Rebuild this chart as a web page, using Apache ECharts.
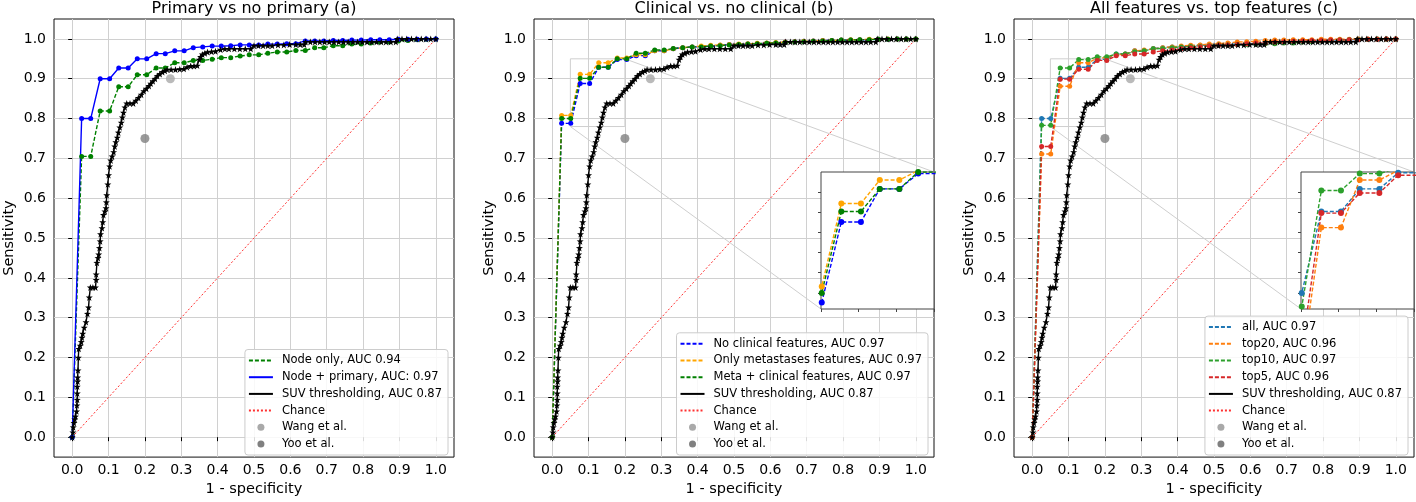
<!DOCTYPE html>
<html><head><meta charset="utf-8">
<script src="https://cdn.jsdelivr.net/npm/echarts@6.0.0/dist/echarts.min.js"></script>
<style>html,body{margin:0;padding:0;background:#fff}#c{width:1416px;height:502px}</style>
</head><body><div id="c"></div>
<script>
// ---------- DATA ----------
const tickValues = [0, 0.1, 0.2, 0.3, 0.4, 0.5, 0.6, 0.7, 0.8, 0.9, 1.0];
const tickLabels = ['0.0','0.1','0.2','0.3','0.4','0.5','0.6','0.7','0.8','0.9','1.0'];
const panelTitles = ['Primary vs no primary (a)', 'Clinical vs. no clinical (b)', 'All features vs. top features (c)'];
const xAxisName = '1 - specificity';
const yAxisName = 'Sensitivity';

// false positive rates of the model curves (steps)
const fpr = [0, 0.026, 0.051, 0.077, 0.103, 0.128, 0.154, 0.179, 0.205, 0.231, 0.256, 0.282, 0.308, 0.333, 0.359, 0.385, 0.41, 0.436, 0.462, 0.487, 0.513, 0.538, 0.564, 0.59, 0.615, 0.641, 0.667, 0.692, 0.718, 0.744, 0.769, 0.795, 0.821, 0.846, 0.872, 0.897, 0.923, 0.949, 0.974, 1.0];

// panel (a)
const p1NodeOnly    = [0,0.705,0.705,0.819,0.819,0.88,0.88,0.91,0.91,0.927,0.927,0.94,0.94,0.946,0.946,0.949,0.953,0.953,0.957,0.96,0.96,0.964,0.967,0.967,0.971,0.971,0.978,0.978,0.983,0.983,0.987,0.987,0.99,0.992,0.992,0.995,0.996,0.998,0.999,1.0];
const p1NodePrimary = [0,0.80,0.80,0.90,0.90,0.927,0.927,0.95,0.95,0.963,0.963,0.97,0.97,0.978,0.98,0.982,0.982,0.983,0.985,0.985,0.985,0.987,0.987,0.988,0.988,0.995,0.995,0.995,0.996,0.996,0.997,0.997,0.998,0.998,0.998,0.999,0.999,0.999,1.0,1.0];
// panel (b)
const p2NoClinical   = [0,0.788,0.788,0.888,0.888,0.929,0.929,0.948,0.948,0.958,0.958,0.97,0.97,0.975,0.978,0.98,0.98,0.982,0.984,0.986,0.986,0.987,0.988,0.989,0.99,0.992,0.993,0.994,0.995,0.996,0.996,0.997,0.997,0.998,0.998,0.999,0.999,1.0,1.0,1.0];
const p2OnlyMeta     = [0,0.808,0.808,0.911,0.911,0.94,0.94,0.952,0.952,0.96,0.96,0.97,0.97,0.975,0.978,0.98,0.982,0.984,0.985,0.986,0.987,0.988,0.989,0.99,0.991,0.992,0.993,0.994,0.995,0.996,0.996,0.997,0.998,0.998,0.999,0.999,1.0,1.0,1.0,1.0];
const p2MetaClinical = [0,0.80,0.80,0.901,0.901,0.929,0.929,0.95,0.95,0.964,0.964,0.972,0.972,0.976,0.978,0.98,0.98,0.982,0.983,0.985,0.986,0.987,0.988,0.989,0.99,0.991,0.992,0.993,0.994,0.995,0.996,0.997,0.997,0.998,0.998,0.999,0.999,1.0,1.0,1.0];
// panel (c)
const p3All   = [0,0.80,0.80,0.901,0.901,0.929,0.929,0.949,0.949,0.962,0.962,0.97,0.97,0.976,0.978,0.98,0.98,0.982,0.984,0.985,0.985,0.986,0.987,0.988,0.988,0.99,0.992,0.993,0.994,0.995,0.995,0.996,0.997,0.997,0.998,0.998,0.999,0.999,1.0,1.0];
const p3Top20 = [0,0.711,0.711,0.881,0.881,0.94,0.94,0.952,0.953,0.96,0.962,0.97,0.972,0.975,0.978,0.98,0.982,0.984,0.985,0.987,0.988,0.99,0.992,0.993,0.994,0.996,0.997,0.997,0.998,0.998,0.998,0.999,0.999,0.999,0.999,1.0,1.0,1.0,1.0,1.0];
const p3Top10 = [0,0.783,0.783,0.927,0.927,0.948,0.948,0.955,0.955,0.962,0.962,0.968,0.97,0.975,0.976,0.978,0.98,0.981,0.981,0.983,0.985,0.985,0.986,0.986,0.987,0.988,0.988,0.99,0.99,0.992,0.993,0.995,0.996,0.997,0.998,0.999,0.999,1.0,1.0,1.0];
const p3Top5  = [0,0.73,0.73,0.899,0.899,0.924,0.924,0.946,0.946,0.958,0.958,0.962,0.962,0.967,0.97,0.972,0.975,0.978,0.98,0.982,0.984,0.985,0.986,0.988,0.99,0.99,0.992,0.993,0.994,0.995,0.996,0.996,0.997,0.997,0.998,0.998,0.999,0.999,1.0,1.0];

// SUV thresholding curve [fpr, tpr] (same in all panels)
const suvCurve = [[0,0],[0.002,0.012],[0.003,0.025],[0.005,0.036],[0.007,0.045],[0.009,0.052],[0.012,0.065],[0.013,0.08],[0.014,0.094],[0.014,0.11],[0.014,0.127],[0.015,0.14],[0.015,0.15],[0.016,0.168],[0.017,0.2],[0.018,0.222],[0.022,0.23],[0.025,0.239],[0.027,0.25],[0.029,0.26],[0.033,0.275],[0.038,0.289],[0.042,0.31],[0.045,0.326],[0.047,0.351],[0.05,0.376],[0.057,0.376],[0.064,0.376],[0.066,0.395],[0.066,0.409],[0.068,0.438],[0.071,0.45],[0.073,0.459],[0.075,0.475],[0.077,0.492],[0.078,0.51],[0.082,0.525],[0.084,0.54],[0.086,0.558],[0.09,0.567],[0.093,0.575],[0.094,0.59],[0.095,0.608],[0.098,0.635],[0.1,0.658],[0.103,0.68],[0.106,0.695],[0.11,0.705],[0.114,0.716],[0.117,0.73],[0.12,0.741],[0.124,0.752],[0.127,0.765],[0.131,0.778],[0.135,0.79],[0.138,0.803],[0.141,0.815],[0.145,0.828],[0.15,0.838],[0.159,0.838],[0.168,0.838],[0.175,0.845],[0.182,0.852],[0.19,0.86],[0.197,0.869],[0.204,0.875],[0.211,0.882],[0.216,0.888],[0.222,0.894],[0.228,0.9],[0.234,0.907],[0.241,0.912],[0.248,0.917],[0.255,0.92],[0.261,0.923],[0.272,0.923],[0.284,0.923],[0.296,0.924],[0.307,0.925],[0.316,0.929],[0.326,0.932],[0.335,0.932],[0.344,0.933],[0.349,0.948],[0.353,0.955],[0.358,0.961],[0.365,0.964],[0.372,0.967],[0.383,0.968],[0.394,0.969],[0.408,0.973],[0.42,0.975],[0.431,0.975],[0.446,0.975],[0.461,0.975],[0.476,0.975],[0.491,0.975],[0.5,0.983],[0.512,0.983],[0.525,0.983],[0.538,0.983],[0.55,0.983],[0.566,0.985],[0.582,0.985],[0.598,0.986],[0.615,0.986],[0.627,0.986],[0.638,0.986],[0.642,0.9925],[0.655,0.9925],[0.668,0.9925],[0.681,0.9925],[0.694,0.9925],[0.707,0.9925],[0.72,0.9925],[0.733,0.9925],[0.746,0.9925],[0.759,0.9925],[0.772,0.9925],[0.785,0.9925],[0.798,0.9925],[0.811,0.9925],[0.824,0.9925],[0.837,0.9925],[0.85,0.9925],[0.863,0.9925],[0.876,0.9925],[0.89,0.9925],[0.894,1.0],[0.907,1.0],[0.92,1.0],[0.933,1.0],[0.946,1.0],[0.96,1.0],[0.973,1.0],[0.986,1.0],[1.0,1.0]];

const chanceLine = [[0,0],[1,1]];
const wangPoint = [[0.27, 0.90]];
const yooPoint  = [[0.20, 0.75]];

const insetXRange = [0.05, 0.2];
const insetYRange = [0.78, 0.95];
const insetXTicks = [0.05, 0.1, 0.15, 0.2];
const insetYTicks = [0.8, 0.825, 0.85, 0.875, 0.9, 0.925];

// ---------- STYLE / LAYOUT ----------
const FONT = 'DejaVu Sans';
const mainGrids = [{left:54, top:19, width:400, height:442},{left:534, top:19, width:400, height:442},{left:1014, top:19, width:400, height:442}];
const insetGrids = [{left:821, top:172, width:113, height:137},{left:1301, top:172, width:113, height:137}];
const DASH = [4, 2];
const STAR = 'path://M0,-10L2.35,-3.24L9.51,-3.09L3.8,1.24L5.88,8.09L0,4L-5.88,8.09L-3.8,1.24L-9.51,-3.09L-2.35,-3.24Z';

function pairs(xs, ys){ return xs.map((x,i)=>[x, ys[i]]); }
function labelOf(v){ return tickLabels[Math.round(v*10)]; }

const grids = [];
mainGrids.forEach(g => grids.push(Object.assign({show:true, borderColor:'#111', borderWidth:1, backgroundColor:'transparent', containLabel:false}, g)));
insetGrids.forEach(g => grids.push(Object.assign({show:true, borderColor:'#444', borderWidth:1, backgroundColor:'#fff', z:3, containLabel:false}, g)));

const xAxes = [], yAxes = [];
mainGrids.forEach((g,i) => {
  xAxes.push({gridIndex:i, type:'value', min:-0.05, max:1.05,
    name:xAxisName, nameLocation:'middle', nameGap:20,
    nameTextStyle:{fontSize:14.5, color:'#000', fontFamily:FONT},
    axisLine:{show:false},
    axisTick:{show:true, inside:false, length:4, customValues:tickValues, lineStyle:{color:'#000', width:1}},
    axisLabel:{show:true, customValues:tickValues, formatter:labelOf, fontSize:14, color:'#000', fontFamily:FONT, margin:6},
    splitLine:{show:true, lineStyle:{color:'#d0d0d0', width:1}}});
  yAxes.push({gridIndex:i, type:'value', min:-0.05, max:1.05,
    name:yAxisName, nameLocation:'middle', nameGap:37,
    nameTextStyle:{fontSize:14.5, color:'#000', fontFamily:FONT},
    axisLine:{show:false},
    axisTick:{show:true, inside:false, length:4, customValues:tickValues, lineStyle:{color:'#000', width:1}},
    axisLabel:{show:true, customValues:tickValues, formatter:labelOf, fontSize:14, color:'#000', fontFamily:FONT, margin:8},
    splitLine:{show:true, lineStyle:{color:'#d0d0d0', width:1}}});
});
insetGrids.forEach((g,j) => {
  const gi = 3 + j;
  xAxes.push({gridIndex:gi, type:'value', min:insetXRange[0], max:insetXRange[1], z:4,
    axisLine:{show:false}, axisLabel:{show:false},
    axisTick:{show:true, length:3, customValues:insetXTicks, lineStyle:{color:'#444'}},
    splitLine:{show:false}});
  yAxes.push({gridIndex:gi, type:'value', min:insetYRange[0], max:insetYRange[1], z:4,
    axisLine:{show:false}, axisLabel:{show:false},
    axisTick:{show:true, length:3, customValues:insetYTicks, lineStyle:{color:'#444'}},
    splitLine:{show:false}});
});

const series = [];
function roc(name, ys, color, dashed, gi, z, size){
  series.push({type:'line', name, xAxisIndex:gi, yAxisIndex:gi, data:pairs(fpr, ys),
    symbol:'circle', symbolSize:size, showAllSymbol:true, clip:true, z:z,
    lineStyle:{color, width:1.4, type: dashed ? DASH : 'solid'}, itemStyle:{color},
    emphasis:{disabled:true}, animation:false});
}
function common(gi){
  series.push({type:'line', name:'SUV thresholding, AUC 0.87', xAxisIndex:gi, yAxisIndex:gi, data:suvCurve,
    symbol:STAR, symbolSize:7, showAllSymbol:true, z:2,
    lineStyle:{color:'#000', width:1.4}, itemStyle:{color:'#000'}, emphasis:{disabled:true}, animation:false});
  series.push({type:'line', name:'Chance', xAxisIndex:gi, yAxisIndex:gi, data:chanceLine, symbol:'none', z:2,
    lineStyle:{color:'#ff3030', width:1, type:[2,2]}, itemStyle:{color:'#ff3030'}, emphasis:{disabled:true}, animation:false});
  series.push({type:'scatter', name:'Wang et al.', xAxisIndex:gi, yAxisIndex:gi, data:wangPoint, symbolSize:9, z:2,
    itemStyle:{color:'#a9a9a9'}, emphasis:{disabled:true}, animation:false});
  series.push({type:'scatter', name:'Yoo et al.', xAxisIndex:gi, yAxisIndex:gi, data:yooPoint, symbolSize:9, z:2,
    itemStyle:{color:'#808080'}, emphasis:{disabled:true}, animation:false});
}
// panel a
roc('Node only, AUC 0.94', p1NodeOnly, '#008000', true, 0, 2, 5);
roc('Node + primary, AUC: 0.97', p1NodePrimary, '#0000ff', false, 0, 2, 5);
common(0);
// panel b
roc('No clinical features, AUC 0.97', p2NoClinical, '#0000ff', true, 1, 2, 5);
roc('Only metastases features, AUC 0.97', p2OnlyMeta, '#ffa500', true, 1, 2, 5);
roc('Meta + clinical features, AUC 0.97', p2MetaClinical, '#008000', true, 1, 2, 5);
common(1);
// panel c
roc('all, AUC 0.97', p3All, '#1f77b4', true, 2, 2, 5);
roc('top20, AUC 0.96', p3Top20, '#ff7f0e', true, 2, 2, 5);
roc('top10, AUC 0.97', p3Top10, '#2ca02c', true, 2, 2, 5);
roc('top5, AUC 0.96', p3Top5, '#d62728', true, 2, 2, 5);
common(2);
// insets
roc('No clinical features, AUC 0.97', p2NoClinical, '#0000ff', true, 3, 5, 6);
roc('Only metastases features, AUC 0.97', p2OnlyMeta, '#ffa500', true, 3, 5, 6);
roc('Meta + clinical features, AUC 0.97', p2MetaClinical, '#008000', true, 3, 5, 6);
roc('all, AUC 0.97', p3All, '#1f77b4', true, 4, 5, 6);
roc('top20, AUC 0.96', p3Top20, '#ff7f0e', true, 4, 5, 6);
roc('top10, AUC 0.97', p3Top10, '#2ca02c', true, 4, 5, 6);
roc('top5, AUC 0.96', p3Top5, '#d62728', true, 4, 5, 6);

const legendNames = [
  ['Node only, AUC 0.94','Node + primary, AUC: 0.97','SUV thresholding, AUC 0.87','Chance','Wang et al.','Yoo et al.'],
  ['No clinical features, AUC 0.97','Only metastases features, AUC 0.97','Meta + clinical features, AUC 0.97','SUV thresholding, AUC 0.87','Chance','Wang et al.','Yoo et al.'],
  ['all, AUC 0.97','top20, AUC 0.96','top10, AUC 0.97','top5, AUC 0.96','SUV thresholding, AUC 0.87','Chance','Wang et al.','Yoo et al.']
];
const legendRight = [968, 488, 8];
const legends = legendNames.map((names,i) => ({
  orient:'vertical', right:legendRight[i], bottom:47, itemWidth:24, itemHeight:7, itemGap:2.7,
  padding:[4,6,4,3], backgroundColor:'rgba(255,255,255,0.85)', borderColor:'#cccccc', borderWidth:1, borderRadius:3,
  selectedMode:false, itemStyle:{opacity:0},
  textStyle:{fontSize:11.5, fontFamily:FONT, color:'#000', lineHeight:14, padding:[0,0,0,4]},
  data: names.map(n => (n==='Wang et al.' || n==='Yoo et al.') ? {name:n, icon:'circle', itemStyle:{opacity:1}} : {name:n})
}));

const titles = panelTitles.map((t,i) => ({text:t, left: mainGrids[i].left + mainGrids[i].width/2, top:1, textAlign:'center', padding:0,
  textStyle:{fontSize:16, fontWeight:'normal', color:'#000', fontFamily:FONT}}));

const chart = echarts.init(document.getElementById('c'), null, {renderer:'canvas'});
chart.setOption({animation:false, backgroundColor:'#fff', textStyle:{fontFamily:FONT},
  title:titles, grid:grids, xAxis:xAxes, yAxis:yAxes, legend:legends, series});

// zoom rectangle and connector lines (mark_inset), computed from the inset ranges
const gfx = [];
[[1,3],[2,4]].forEach(([mg, ig]) => {
  const lo = [insetXRange[0], insetYRange[0]], hi = [insetXRange[1], insetYRange[1]];
  const a = chart.convertToPixel({gridIndex:mg}, lo), b = chart.convertToPixel({gridIndex:mg}, hi);
  const ia = chart.convertToPixel({gridIndex:ig}, lo), ib = chart.convertToPixel({gridIndex:ig}, hi);
  const st = {fill:'none', stroke:'#cfcfcf', lineWidth:1};
  gfx.push({type:'rect', z:1, silent:true, shape:{x:a[0], y:b[1], width:b[0]-a[0], height:a[1]-b[1]}, style:st});
  gfx.push({type:'line', z:1, silent:true, shape:{x1:b[0], y1:b[1], x2:ib[0], y2:ib[1]}, style:st});
  gfx.push({type:'line', z:1, silent:true, shape:{x1:a[0], y1:a[1], x2:ia[0], y2:ia[1]}, style:st});
});
chart.setOption({graphic: gfx});
</script></body></html>
